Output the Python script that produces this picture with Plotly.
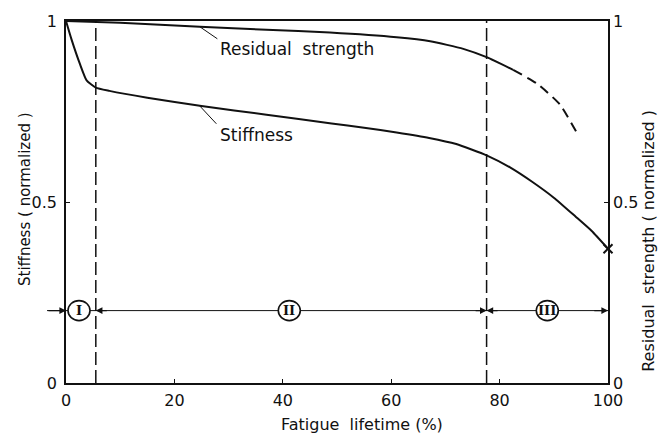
import plotly.graph_objects as go

# ---- data ----
life_stiff = [0, 1, 2.6, 3.8, 5.5, 8, 15, 25, 37, 49, 55, 61, 67, 72, 77.6, 82, 86, 90, 94, 97, 100]
stiffness = [1, 0.95, 0.88, 0.836, 0.816, 0.807, 0.788, 0.765, 0.741, 0.717, 0.705, 0.692, 0.677,
             0.66, 0.629, 0.595, 0.556, 0.512, 0.46, 0.42, 0.371]

life_rs = [0, 10, 24.7, 37, 48.7, 61, 67.2, 73.3, 77.6, 82.5]
resid = [1, 0.995, 0.984, 0.976, 0.968, 0.955, 0.944, 0.923, 0.90, 0.865]

life_rs_dash = [82.5, 86.9, 91.1, 94.3]
resid_dash = [0.865, 0.827, 0.77, 0.69]

failure_x = [100]
failure_y = [0.371]

stage_bounds = [5.5, 77.6]
stage_labels = ["I", "II", "III"]
stage_label_x = [2.4, 41.2, 88.8]
stage_y = 0.2

x_ticks = [0, 20, 40, 60, 80, 100]
y_ticks = [0, 0.5, 1]
y_ticktext = ["0", "0.5", "1"]

FONT = "DejaVu Sans"
INK = "#111111"

fig = go.Figure()

fig.add_trace(go.Scatter(x=life_stiff, y=stiffness, mode="lines",
                         line=dict(color=INK, width=2, shape="spline", smoothing=0.5),
                         showlegend=False, hoverinfo="skip"))
fig.add_trace(go.Scatter(x=life_rs, y=resid, mode="lines",
                         line=dict(color=INK, width=2, shape="spline", smoothing=0.5),
                         showlegend=False, hoverinfo="skip"))
fig.add_trace(go.Scatter(x=life_rs_dash, y=resid_dash, mode="lines",
                         line=dict(color=INK, width=2, dash="10px,6px", shape="spline", smoothing=0.5),
                         showlegend=False, hoverinfo="skip"))
fig.add_trace(go.Scatter(x=failure_x, y=failure_y, mode="markers",
                         marker=dict(symbol="x-thin", size=9, line=dict(color=INK, width=2)),
                         showlegend=False, hoverinfo="skip", cliponaxis=False))
# invisible trace for right axis
fig.add_trace(go.Scatter(x=[0], y=[0], yaxis="y2", mode="markers",
                         marker=dict(opacity=0), showlegend=False, hoverinfo="skip"))

shapes = []
for b in stage_bounds:
    shapes.append(dict(type="line", xref="x", yref="paper", x0=b, x1=b, y0=0, y1=1,
                       line=dict(color=INK, width=1.5, dash="13px,5px")))
# stage dimension line
shapes.append(dict(type="line", xref="paper", yref="y", x0=-0.035, x1=1.0, y0=stage_y, y1=stage_y,
                   line=dict(color=INK, width=1)))
# circles around roman numerals
for sx in stage_label_x:
    shapes.append(dict(type="circle", xref="x", yref="y", xsizemode="pixel", ysizemode="pixel",
                       xanchor=sx, yanchor=stage_y, x0=-11, x1=11, y0=-10, y1=10,
                       fillcolor="white", line=dict(color=INK, width=1.6), layer="above"))

annotations = []
for sx, lab in zip(stage_label_x, stage_labels):
    annotations.append(dict(x=sx, y=stage_y, text="<b>" + lab + "</b>", showarrow=False,
                            font=dict(family="DejaVu Serif", size=13, color=INK)))
# arrows pointing to boundaries
arrow_specs = [(0, -3.5), (5.5, 7.8), (77.6, 75.3), (77.6, 79.9), (100, 97.2)]
for tip, tail in arrow_specs:
    annotations.append(dict(x=tip, y=stage_y, ax=tail, ay=stage_y, axref="x", ayref="y",
                            xref="x", yref="y", text="", showarrow=True,
                            arrowhead=2, arrowsize=1.1, arrowwidth=1.2, arrowcolor=INK))

# curve labels with leader lines
annotations.append(dict(x=24.7, y=0.984, ax=28.2, ay=0.948, axref="x", ayref="y",
                        text="", showarrow=True, arrowhead=0, arrowwidth=1, arrowcolor=INK))
annotations.append(dict(x=28.0, y=0.922, text="Residual  strength", showarrow=False,
                        xanchor="left", font=dict(family=FONT, size=17, color=INK)))
annotations.append(dict(x=24.7, y=0.765, ax=28.0, ay=0.712, axref="x", ayref="y",
                        text="", showarrow=True, arrowhead=0, arrowwidth=1, arrowcolor=INK))
annotations.append(dict(x=28.0, y=0.686, text="Stiffness", showarrow=False,
                        xanchor="left", font=dict(family=FONT, size=17, color=INK)))

# axis titles
annotations.append(dict(xref="paper", yref="paper", x=(25 - 66) / 542, y=(383 - 198) / 364,
                        text="Stiffness ( normalized )", textangle=-90, showarrow=False,
                        xanchor="center", yanchor="middle",
                        font=dict(family=FONT, size=15, color=INK)))
annotations.append(dict(xref="paper", yref="paper", x=(649 - 66) / 542, y=(383 - 240) / 364,
                        text="Residual  strength ( normalized )", textangle=-90, showarrow=False,
                        xanchor="center", yanchor="middle",
                        font=dict(family=FONT, size=16, color=INK)))
annotations.append(dict(xref="paper", yref="paper", x=(362 - 66) / 542, y=(383 - 425) / 364,
                        text="Fatigue  lifetime (%)", showarrow=False,
                        xanchor="center", yanchor="middle",
                        font=dict(family=FONT, size=16, color=INK)))

fig.update_layout(
    width=658, height=437,
    margin=dict(l=66, r=50, t=19, b=54),
    paper_bgcolor="white", plot_bgcolor="white",
    font=dict(family=FONT, size=14, color=INK),
    shapes=shapes, annotations=annotations,
    xaxis=dict(range=[0, 100], tickvals=x_ticks, ticks="inside", ticklen=4, tickcolor=INK,
               showline=True, mirror=True, linecolor=INK, linewidth=1.5, showgrid=False,
               zeroline=False, tickfont=dict(size=16), ticklabelstandoff=2),
    yaxis=dict(range=[0, 1], tickvals=y_ticks, ticktext=y_ticktext, ticks="inside", ticklen=4,
               tickcolor=INK, showline=True, mirror=True, linecolor=INK, linewidth=1.5,
               showgrid=False, zeroline=False, tickfont=dict(size=16), ticklabelstandoff=4),
    yaxis2=dict(range=[0, 1], overlaying="y", side="right", tickvals=y_ticks, ticktext=y_ticktext,
                ticks="inside", ticklen=4, tickcolor=INK, showline=False, showgrid=False,
                zeroline=False, tickfont=dict(size=16), ticklabelstandoff=4),
)

fig.write_html("out.html")
